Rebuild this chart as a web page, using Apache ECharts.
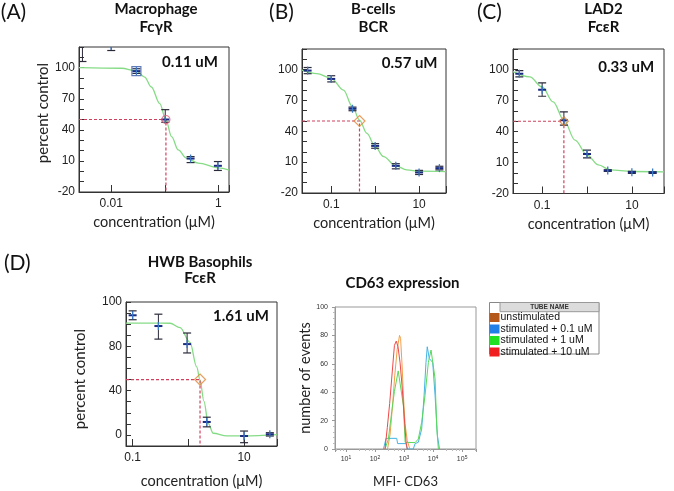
<!DOCTYPE html>
<html><head><meta charset="utf-8">
<script src="https://cdn.jsdelivr.net/npm/echarts@6.0.0/dist/echarts.min.js"></script>
<style>html,body{margin:0;padding:0;background:#fff}#c{width:674px;height:491px}</style>
</head><body><div id="c"></div>
<script>
// ---------- DATA ----------
// dose-response points: [concentration µM, mean %, low, high]
const A_points = [[0.0029,126,106,146],[0.01,121,116.6,126],[0.0295,96.7,94.5,99],[0.102,50,47.3,59.5],[0.303,12.3,8.4,14.2],[0.98,5.3,0.8,9.4]];
const B_points = [[0.029,99,96,102],[0.1,90.9,88,94],[0.305,61.9,60,63.5],[1,25.8,23.5,28],[2.95,6.4,3.5,8.5],[10,0,-2,2],[29,4.2,2.5,6]];
const C_points = [[0.031,96,93,99],[0.1,80.5,74.2,87.1],[0.305,51,46.3,59.1],[1,18.3,14.5,22],[2.9,2.2,1.5,3],[10,0.6,-0.5,1.5],[29,0.3,-0.5,1]];
const D_points = [[0.1,108,104,112],[0.29,98.3,86.5,109],[0.95,82,74,92],[2.14,11.7,7.3,16],[10,-1,-7,3.5],[29,0.6,-1,2]];
// fitted curves: [concentration, %]
const A_curve = [[0.0025,100],[0.0155,99.5],[0.0295,97],[0.042,91],[0.056,81.4],[0.0806,65.4],[0.105,49.4],[0.134,33.4],[0.178,20.6],[0.255,12.7],[0.42,7.9],[1.0,3.3],[1.58,1.2]];
const B_curve = [[0.0216,99.5],[0.047,96.1],[0.1,91.5],[0.19,80],[0.305,63.9],[0.44,50.9],[0.65,38],[1.0,25],[1.55,15.4],[2.95,6.4],[5.25,2.5],[10,1.2],[41,0.8]];
const C_curve = [[0.0224,98],[0.053,92.9],[0.1,83.2],[0.176,68.7],[0.305,51],[0.54,31.8],[1,17.3],[1.79,7.7],[3.27,2.9],[10,1.3],[52,1]];
const D_curve = [[0.076,101],[0.2,101],[0.47,100.8],[0.71,96.8],[1.07,83.5],[1.41,61.4],[1.62,49.6],[1.9,30.6],[2.28,10.2],[2.8,1.5],[4.9,-0.9],[10,-0.8],[39,0.3]];
// IC50 read positions (x of dashed line, y = 50)
const IC50_x = [0.105, 0.44, 0.305, 1.62];
const IC50_text = ['0.11 uM', '0.57 uM', '0.33 uM', '1.61 uM'];
const panelTitles = [['Macrophage','FcγR'],['B-cells','BCR'],['LAD2','FcεR'],['HWB Basophils','FcεR']];
const panelLetters = ['(A)','(B)','(C)','(D)'];
// tick labels
const ABC_yLabels = {'-20':'-20','10':'10','40':'40','70':'70','100':'100'};
const D_yLabels = {'0':'0','40':'40','80':'80','120':'100'};
const A_xLabels = ['0.01','1'];
const BCD_xLabels = ['0.1','10'];
// CD63 histogram: [MFI, number of events]
const histNames = ['unstimulated','stimulated + 0.1 uM','stimulated + 1 uM','stimulated + 10 uM'];
const H_unstim = [[270,0],[330,10],[400,30],[480,52],[580,70],[700,80],[760,78],[850,60],[950,38],[1080,18],[1290,6],[1580,0]];
const H_01 = [[196,0],[240,7.5],[560,7.5],[600,3.8],[1170,3.8],[1290,0],[2080,0],[2400,3.8],[3100,4.7],[4040,14],[4900,37.6],[5700,61],[6300,72],[7400,63.7],[9700,61],[11700,37.6],[14100,9.4],[16600,0]];
const H_1 = [[221,0],[288,6.8],[377,26.4],[467,40.6],[630,55],[728,54.6],[950,30.6],[1090,4.7],[2400,4.5],[3100,7],[4040,18.8],[5270,37.6],[6880,61],[8500,69.7],[9700,69],[11700,49.6],[13400,14.4],[15200,0]];
const H_10 = [[221,0],[265,15],[320,32],[377,50],[467,73],[540,76],[620,72],[728,61],[850,45],[950,31],[1170,5],[1290,0]];
const histLineColors = ['#f0a04a','#44b4e4','#5ad85a','#f04848'];
const histLegendColors = ['#b4581c','#2080e8','#22e022','#f02020'];
const histXLabelsExp = [1,2,3,4,5];

// ---------- LAYOUT / STYLE ----------
const grids = [
  {left:79, top:47, width:150, height:145},
  {left:302, top:49, width:144, height:144},
  {left:513, top:49, width:151, height:144.5},
  {left:126, top:302, width:151, height:144},
  {left:335, top:307, width:141, height:142}
];
const xRanges = [[0.0025,1.58],[0.0216,41],[0.0224,52],[0.076,39]];
const yRanges = [[-20,120],[-20,120],[-20,120],[-10,120]];
const TICKF = 'Liberation Sans';
const NAMEF = 'Lato';

function matchLabel(v, labels){
  for (const l of labels){ if (Math.abs(Math.log10(v) - Math.log10(parseFloat(l))) < 1e-6) return l; }
  return '';
}
function concAxis(i, labels){
  return {type:'log', logBase:10, gridIndex:i, min:xRanges[i][0], max:xRanges[i][1],
    axisLine:{show:true, onZero:false, lineStyle:{color:'#333', width:1}},
    axisTick:{show:true, inside:true, length:7, lineStyle:{color:'#333'}},
    axisLabel:{formatter:(v)=>matchLabel(v, labels), fontSize:12, color:'#222', fontFamily:TICKF, margin:6, showMinLabel:true, showMaxLabel:true},
    splitLine:{show:false},
    name:'concentration (μM)', nameLocation:'middle', nameGap:(i===3?28:23),
    nameTextStyle:{fontFamily:NAMEF, fontSize:14.5, color:'#222'}};
}
function pctAxis(i, labelMap, showName, gap, pad){
  return {type:'value', gridIndex:i, min:yRanges[i][0], max:yRanges[i][1], interval:10,
    axisLine:{show:true, onZero:false, lineStyle:{color:'#333', width:1}},
    axisTick:{show:true, inside:true, length:5, lineStyle:{color:'#333'}},
    axisLabel:{formatter:(v)=> (labelMap[String(v)] !== undefined ? labelMap[String(v)] : ''), fontSize:12, color:'#222', fontFamily:TICKF, margin:4},
    splitLine:{show:false},
    name: showName ? 'percent control' : '', nameLocation:'middle', nameGap:gap,
    nameTextStyle:{fontFamily:NAMEF, fontSize:15, color:'#222', padding:pad||0}};
}

function errRender(params, api){
  const x = api.value(0), m = api.value(1), lo = api.value(2), hi = api.value(3);
  const pm = api.coord([x, m]), pl = api.coord([x, lo]), ph = api.coord([x, hi]);
  const cw = 4, mw = 4;
  const dark = '#2a2a3a';
  return {type:'group', children:[
    {type:'line', shape:{x1:pm[0],y1:ph[1],x2:pm[0],y2:pl[1]}, style:{stroke:dark,lineWidth:1}},
    {type:'line', shape:{x1:pm[0]-cw,y1:ph[1],x2:pm[0]+cw,y2:ph[1]}, style:{stroke:dark,lineWidth:1.2}},
    {type:'line', shape:{x1:pm[0]-cw,y1:pl[1],x2:pm[0]+cw,y2:pl[1]}, style:{stroke:dark,lineWidth:1.2}},
    {type:'line', shape:{x1:pm[0]-mw,y1:pm[1],x2:pm[0]+mw,y2:pm[1]}, style:{stroke:'#1b2a80',lineWidth:2}},
    {type:'line', shape:{x1:pm[0],y1:pm[1]-mw,x2:pm[0],y2:pm[1]+mw}, style:{stroke:'#3a78c8',lineWidth:1.3}}
  ]};
}

const pointsAll = [A_points, B_points, C_points, D_points];
const curvesAll = [A_curve, B_curve, C_curve, D_curve];

const xAxes = [concAxis(0, A_xLabels), concAxis(1, BCD_xLabels), concAxis(2, BCD_xLabels), concAxis(3, BCD_xLabels)];
const yAxes = [pctAxis(0, ABC_yLabels, true, 28, [0,0,0,13]), pctAxis(1, ABC_yLabels, false, 0), pctAxis(2, ABC_yLabels, false, 0), pctAxis(3, D_yLabels, true, 38, [0,0,0,-10])];

// histogram axes
xAxes.push({type:'log', logBase:10, gridIndex:4, min:4.2, max:300000,
  axisLine:{show:true, onZero:false, lineStyle:{color:'#999'}},
  axisTick:{show:true, length:3, lineStyle:{color:'#999'}},
  minorTick:{show:true, length:2, splitNumber:5, lineStyle:{color:'#bbb'}},
  axisLabel:{fontSize:7, color:'#333', fontFamily:TICKF, margin:6,
    formatter:(v)=>{ const e = Math.round(Math.log10(v)); if (Math.abs(Math.log10(v)-e) > 1e-6 || histXLabelsExp.indexOf(e) < 0) return ''; return '10{s|' + e + '}'; },
    rich:{s:{fontSize:5, verticalAlign:'top', lineHeight:8, fontFamily:TICKF, color:'#333'}}},
  splitLine:{show:false},
  name:'MFI- CD63', nameLocation:'middle', nameGap:26, nameTextStyle:{fontFamily:NAMEF, fontSize:13, color:'#222'}});
yAxes.push({type:'value', gridIndex:4, min:0, max:100, interval:20,
  axisLine:{show:true, onZero:false, lineStyle:{color:'#999'}},
  axisTick:{show:true, length:3, lineStyle:{color:'#999'}},
  minorTick:{show:true, length:2, splitNumber:5, lineStyle:{color:'#bbb'}},
  axisLabel:{fontSize:7, color:'#333', fontFamily:TICKF, margin:7},
  splitLine:{show:false},
  name:'number of events', nameLocation:'middle', nameGap:19, nameTextStyle:{fontFamily:NAMEF, fontSize:14.5, color:'#222'}});

const series = [];
for (let i = 0; i < 4; i++){
  series.push({type:'line', xAxisIndex:i, yAxisIndex:i, data:curvesAll[i], smooth:0.35, smoothMonotone:'x', showSymbol:false, symbol:'none',
    lineStyle:{color:'#86dc86', width:1.3}, z:2, silent:true});
  series.push({type:'line', xAxisIndex:i, yAxisIndex:i, symbol:'none', showSymbol:false,
    data:[[xRanges[i][0],50],[IC50_x[i],50],[IC50_x[i],yRanges[i][0]]],
    lineStyle:{color:'#d0405e', width:1.2, type:[3,2]}, itemStyle:{color:'#d0405e'}, z:3, silent:true});
  series.push({type:'custom', xAxisIndex:i, yAxisIndex:i, data:pointsAll[i], renderItem:errRender, clip:true, z:4, silent:true});
  series.push({type:'scatter', xAxisIndex:i, yAxisIndex:i, data:[[IC50_x[i],50]],
    symbol: i===0 ? 'circle' : 'diamond', symbolSize: i===0 ? 8 : (i===2 ? 9 : 11),
    itemStyle:{color:'rgba(255,255,255,0)', borderColor: i===0 ? '#e0607a' : '#e0883a', borderWidth:1.2}, z:5, silent:true});
}
// A: square marker around the 0.03 µM point
series.push({type:'scatter', xAxisIndex:0, yAxisIndex:0, data:[[A_points[2][0], A_points[2][1]]], symbol:'rect', symbolSize:9,
  itemStyle:{color:'rgba(0,0,0,0)', borderColor:'#3a5aa8', borderWidth:1.2}, z:6, silent:true});

const histData = [H_unstim, H_01, H_1, H_10];
for (let k = 0; k < 4; k++){
  series.push({type:'line', name:histNames[k], xAxisIndex:4, yAxisIndex:4, data:histData[k], symbol:'none', showSymbol:false,
    lineStyle:{color:histLineColors[k], width:1}, itemStyle:{color:histLegendColors[k]}, z:3, silent:true});
}

// ---------- TEXT / DECOR ----------
const graphic = [];
function txt(text, x, y, font, align, fill){
  graphic.push({type:'text', x:x, y:y, silent:true, style:{text:text, font:font, fill:fill||'#111',
    textAlign:align||'center', align:align||'center', textVerticalAlign:'middle', verticalAlign:'middle'}});
}
const letterPos = [[13.5,12.5],[281.5,12.5],[489.5,12.5],[17.3,263]];
panelLetters.forEach((l,i)=>txt(l, letterPos[i][0], letterPos[i][1], '21px Lato', 'center', '#111'));
const titlePos = [[156,9,27],[373.3,9,27],[603.5,9,27],[200,262,278.5]];
panelTitles.forEach((t,i)=>{ txt(t[0], titlePos[i][0], titlePos[i][1], 'bold 15px Lato'); txt(t[1], titlePos[i][0], titlePos[i][2], 'bold 15px Lato'); });
txt('CD63 expression', 402.5, 282.7, 'bold 15px Lato');
const icPos = [[162,62.3],[381.7,63],[598.3,66.7],[213,316.5]];
IC50_text.forEach((t,i)=>txt(t, icPos[i][0], icPos[i][1], 'bold 15px Lato', 'left', '#111'));
// legend table frame
graphic.push({type:'rect', shape:{x:489.5, y:302.5, width:109.5, height:51.5}, style:{fill:'#fff', stroke:'#888', lineWidth:1}, z:-1, silent:true});
graphic.push({type:'rect', shape:{x:500, y:302.5, width:99, height:9.2}, style:{fill:'#dcdcdc', stroke:'#999', lineWidth:1}, z:-1, silent:true});
txt('TUBE NAME', 549.5, 307.2, 'bold 6.5px Liberation Sans', 'center', '#333');

const option = {
  backgroundColor:'#fff',
  animation:false,
  grid: grids.map((g,i)=>Object.assign({show:true, borderColor: i===4 ? '#999' : '#333', borderWidth:1, backgroundColor:'transparent', containLabel:false}, g)),
  xAxis: xAxes,
  yAxis: yAxes,
  series: series,
  legend: {left:489.5, top:312, orient:'vertical', itemWidth:10, itemHeight:9, itemGap:0.5, padding:0, icon:'rect', selectedMode:false,
    textStyle:{fontFamily:TICKF, fontSize:10.5, lineHeight:10, color:'#111', padding:[0,0,0,-4]},
    data: histNames.map((n,k)=>({name:n, itemStyle:{color:histLegendColors[k]}}))},
  graphic: graphic
};
const chart = echarts.init(document.getElementById('c'), null, {renderer:'canvas'});
chart.setOption(option);
</script>
</body></html>
